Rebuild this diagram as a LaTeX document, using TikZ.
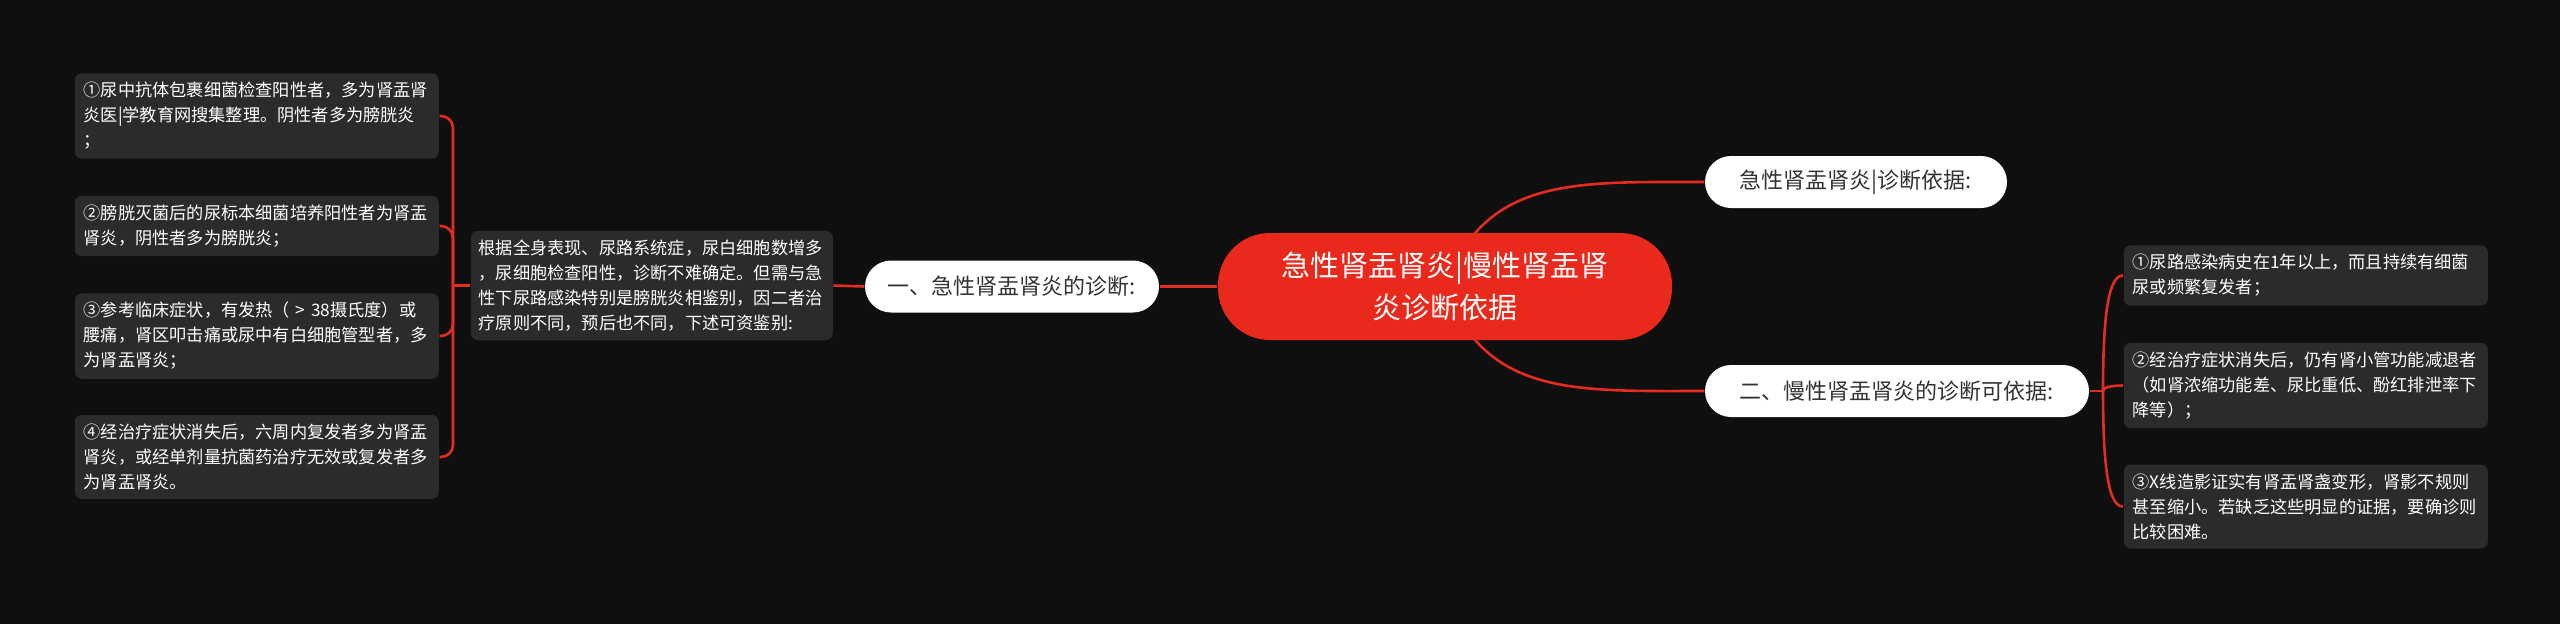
\documentclass[tikz,border=0pt]{standalone}
\usepackage{fontspec}
\setmainfont{Noto Sans CJK SC}
\usetikzlibrary{backgrounds}

\definecolor{bgblack}{RGB}{15,15,16}
\definecolor{leafgray}{RGB}{43,43,43}
\definecolor{rootred}{RGB}{233,41,27}
\definecolor{linered}{RGB}{228,44,32}
\definecolor{pilltext}{RGB}{51,51,51}

\tikzset{every picture/.style={line width=0.75pt}}
\tikzset{
  rootnode/.style={fill=rootred, text=white, rounded corners=26pt, minimum width=227pt, minimum height=53.5pt, align=center, inner sep=0pt, font=\fontsize{14.5}{21}\selectfont},
  pillnode/.style={fill=white, text=pilltext, rounded corners=13pt, minimum height=26pt, inner sep=0pt, font=\fontsize{11}{14}\selectfont},
  leafbox/.style={fill=leafgray, text=white, rounded corners=3.5pt, text width=173pt, inner xsep=4.5pt, inner ysep=4.5pt, align=left, font=\fontsize{8.6}{12.5}\selectfont},
  redline/.style={draw=linered, line width=1.3pt},
}

\begin{document}
\begin{tikzpicture}[x=0.5pt,y=0.5pt,yscale=-1]
\useasboundingbox (0,0) rectangle (2560,623);

% Root
\draw (1445,286.5) node [rootnode] (root) {急性肾盂肾炎|慢性肾盂肾\\炎诊断依据};

% Text Node
\draw (1012,286.5) node [pillnode, minimum width=147pt] (acute) {一、急性肾盂肾炎的诊断:};
% Text Node
\draw (470,285.5) node [leafbox, anchor=west, inner xsep=4pt] (basis) {根据全身表现、尿路系统症，尿白细胞数增多\\，尿细胞检查阳性，诊断不难确定。但需与急\\性下尿路感染特别是膀胱炎相鉴别，因二者治\\疗原则不同，预后也不同，下述可资鉴别:};

% Text Node
\draw (74,116) node [leafbox, anchor=west] (acuteA) {①尿中抗体包裹细菌检查阳性者，多为肾盂肾\\炎医|学教育网搜集整理。阴性者多为膀胱炎\\；};
% Text Node
\draw (74,226) node [leafbox, anchor=west] (acuteB) {②膀胱灭菌后的尿标本细菌培养阳性者为肾盂\\肾炎，阴性者多为膀胱炎；};
% Text Node
\draw (74,336) node [leafbox, anchor=west] (acuteC) {③参考临床症状，有发热（~>~38摄氏度）或\\腰痛，肾区叩击痛或尿中有白细胞管型者，多\\为肾盂肾炎；};
% Text Node
\draw (74,457) node [leafbox, anchor=west] (acuteD) {④经治疗症状消失后，六周内复发者多为肾盂\\肾炎，或经单剂量抗菌药治疗无效或复发者多\\为肾盂肾炎。};

% Text Node
\draw (1856,182) node [pillnode, minimum width=151pt] (basisAcute) {急性肾盂肾炎|诊断依据:};
% Text Node
\draw (1897,391) node [pillnode, minimum width=192pt] (chronic) {二、慢性肾盂肾炎的诊断可依据:};

% Text Node
\draw (2123,275.5) node [leafbox, anchor=west] (chronicA) {①尿路感染病史在1年以上，而且持续有细菌\\尿或频繁复发者；};
% Text Node
\draw (2123,385.5) node [leafbox, anchor=west] (chronicB) {②经治疗症状消失后，仍有肾小管功能减退者\\（如肾浓缩功能差、尿比重低、酚红排泄率下\\降等）；};
% Text Node
\draw (2123,506.5) node [leafbox, anchor=west] (chronicC) {③X线造影证实有肾盂肾盏变形，肾影不规则\\甚至缩小。若缺乏这些明显的证据，要确诊则\\比较困难。};

\coordinate (lfork) at (453,285.5);
\coordinate (rfork) at (2103,391);

\begin{scope}[on background layer]
\fill [bgblack] (-10,-10) rectangle (2570,633);
%Curve Lines
\draw [redline] (root.center) .. controls +(40,-110) and +(-130,0) .. (basisAcute.west);
%Curve Lines
\draw [redline] (root.center) .. controls +(40,110) and +(-130,0) .. (chronic.west);
\end{scope}

%Straight Lines
\draw [redline] (root.west) -- (acute.east);
\draw [redline] (acute.west) -- (basis.east);
\draw [redline] (basis.west) -- (lfork);
\draw [redline, rounded corners=6pt] (lfork) |- (acuteA.east);
\draw [redline, rounded corners=6pt] (lfork) |- (acuteB.east);
\draw [redline, rounded corners=6pt] (lfork) |- (acuteC.east);
\draw [redline, rounded corners=6pt] (lfork) |- (acuteD.east);

%Curve Lines
\draw [redline] (chronic.east) -- (rfork);
\draw [redline] (rfork) .. controls +(0,-80) and +(-14,0) .. (chronicA.west);
\draw [redline] (rfork) .. controls +(0,-3) and +(-14,0) .. (chronicB.west);
\draw [redline] (rfork) .. controls +(0,80) and +(-14,0) .. (chronicC.west);

\end{tikzpicture}
\end{document}
